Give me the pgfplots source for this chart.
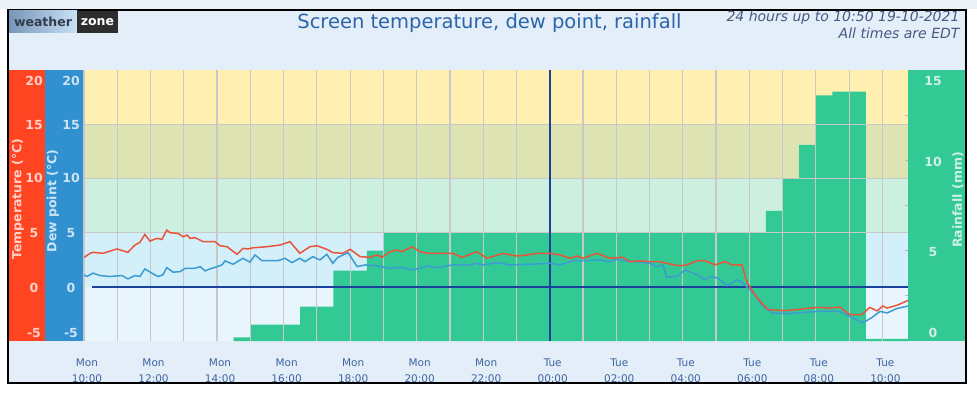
\documentclass[border=0pt]{standalone}
\usepackage{pgfplots}
\pgfplotsset{compat=1.18}
\usepackage{fontspec}
\setmainfont{DejaVu Sans}
\definecolor{panel}{RGB}{228,238,248}
\definecolor{bYel}{RGB}{255,239,176}
\definecolor{bOli}{RGB}{222,227,180}
\definecolor{bMin}{RGB}{205,239,224}
\definecolor{bCya}{RGB}{210,239,250}
\definecolor{bPal}{RGB}{232,245,252}
\definecolor{rainc}{RGB}{51,201,149}
\definecolor{redband}{RGB}{255,68,34}
\definecolor{blueband}{RGB}{48,144,208}
\definecolor{zeroc}{RGB}{25,65,155}
\definecolor{tempc}{RGB}{232,85,58}
\definecolor{dewc}{RGB}{60,155,210}
\definecolor{gridc}{RGB}{200,200,200}
\definecolor{titlec}{RGB}{42,100,170}
\definecolor{infoc}{RGB}{70,90,130}
\definecolor{xlabc}{RGB}{60,100,160}
\definecolor{logoL}{RGB}{120,150,185}
\definecolor{logoR}{RGB}{200,225,245}
\definecolor{logoD}{RGB}{45,45,45}
\definecolor{logoT}{RGB}{50,62,78}
\definecolor{topstrip}{RGB}{236,241,247}
\pgfplotsset{base/.style={at={(84pt,51pt)}, anchor=south west, scale only axis,
  width=824pt, height=271pt, xmin=0, xmax=24.77}}
\begin{document}
\begin{tikzpicture}[x=1pt,y=1pt]
\fill[white] (0,0) rectangle (977,392);
\fill[topstrip] (0,383) rectangle (977,392);
\fill[panel] (8,9) rectangle (966,382);
\draw[black, line width=1.5pt] (8,9) rectangle (966,382);
% logo
\shade[left color=logoL, right color=logoR] (9,359) rectangle (77,381);
\fill[logoD] (77,359) rectangle (118,381);
\node[font=\bfseries\fontsize{12.5}{13}\selectfont, text=logoT] at (43,370) {weather};
\node[font=\bfseries\fontsize{12.5}{13}\selectfont, text=white] at (97.5,370) {zone};
% titles
\node[font=\fontsize{19.5}{20}\selectfont, text=titlec] at (489.5,369) {Screen temperature, dew point, rainfall};
\node[font=\itshape\fontsize{14}{15}\selectfont, text=infoc, anchor=east] at (963,374) {24 hours up to 10:50 19-10-2021};
\node[font=\itshape\fontsize{14}{15}\selectfont, text=infoc, anchor=east] at (963,359) {All times are EDT};
% side bands
\fill[redband] (9,51) rectangle (45,322);
\fill[blueband] (45,51) rectangle (84,322);
\fill[rainc] (908,51) rectangle (965,322);
\begin{scope}[every node/.style={font=\bfseries\fontsize{12.5}{13}\selectfont}]
\foreach \v/\y in {20/311,15/267,10/214,5/159,0/104,-5/59}{
  \node[text=redband!25!white] at (34,\y) {\v};
  \node[text=blueband!25!white] at (71,\y) {\v};
}
\foreach \v/\y in {15/311,10/230,5/140,0/59}{
  \node[text=rainc!25!white] at (933,\y) {\v};
}
\node[text=redband!25!white, rotate=90] at (18,193) {Temperature (°C)};
\node[text=blueband!25!white, rotate=90] at (53,191) {Dew point (°C)};
\node[text=rainc!25!white, rotate=90] at (958,192) {Rainfall (mm)};
\end{scope}
% rainfall axis
\begin{axis}[base, ymin=0, ymax=15, axis on top, axis line style={draw=none},
  xtick=\empty, ytick={2.5,5,7.5,10,12.5}, yticklabels={}, ytick pos=right,
  tick align=inside, major tick length=3pt, tick style={color=gray!55, line width=0.8pt}]
\fill[bPal] (rel axis cs:0,0) rectangle (rel axis cs:1,0.2);
\fill[bCya] (rel axis cs:0,0.2) rectangle (rel axis cs:1,0.4);
\fill[bMin] (rel axis cs:0,0.4) rectangle (rel axis cs:1,0.6);
\fill[bOli] (rel axis cs:0,0.6) rectangle (rel axis cs:1,0.8);
\fill[bYel] (rel axis cs:0,0.8) rectangle (rel axis cs:1,1);
\addplot[const plot, fill=rainc, draw=none] coordinates {
(4.5,0.2)(5,0.9)(6.5,1.9)(7.5,3.9)(8.5,5.0)(9,6.0)(20.5,7.2)(21,9.0)(21.5,10.85)
(22,13.6)(22.5,13.8)(23.5,0.12)(24.77,0.12)} \closedcycle;
\end{axis}
% temperature axis
\begin{axis}[base, ymin=-5, ymax=20, axis line style={draw=none},
  xtick={0,2,...,24}, minor xtick={1,3,...,23}, ytick={5,10,15}, yticklabels={},
  xticklabels={{Mon\\10:00},{Mon\\12:00},{Mon\\14:00},{Mon\\16:00},{Mon\\18:00},{Mon\\20:00},{Mon\\22:00},{Tue\\00:00},{Tue\\02:00},{Tue\\04:00},{Tue\\06:00},{Tue\\08:00},{Tue\\10:00}},
  xticklabel style={align=center, font=\fontsize{10.5}{16}\selectfont, text=xlabc, xshift=3pt, yshift=-14pt},
  major tick length=0pt, minor tick length=0pt,
  grid=both, grid style={gridc, line width=1.2pt}, minor grid style={gridc, line width=1.2pt}]
\addplot[zeroc, line width=1.6pt] coordinates {(0.25,0)(24.77,0)};
\addplot[zeroc, line width=1.6pt] coordinates {(14,-5)(14,20)};
\addplot[dewc, line width=1.5pt] coordinates {
(0,1.10)(0.09,0.95)(0.27,1.26)(0.48,1.04)(0.78,0.95)(1.14,1.04)(1.32,0.73)(1.53,1.04)(1.68,0.95)(1.83,1.65)
(2.04,1.26)(2.22,0.95)(2.37,1.10)(2.49,1.77)(2.68,1.35)(2.89,1.40)(3.04,1.71)(3.34,1.71)(3.49,1.86)(3.64,1.47)
(3.79,1.65)(4.00,1.86)(4.15,2.02)(4.24,2.39)(4.48,2.08)(4.78,2.63)(4.99,2.27)(5.14,2.94)(5.35,2.41)(5.83,2.41)
(6.04,2.63)(6.25,2.23)(6.49,2.63)(6.64,2.32)(6.88,2.78)(7.09,2.48)(7.30,3.00)(7.48,2.17)(7.63,2.72)(7.94,3.15)
(8.21,1.86)(8.45,2.02)(8.81,1.93)(9.20,1.71)(9.50,1.80)(9.86,1.56)(10.10,1.71)(10.34,1.93)(10.61,1.75)(10.85,1.90)
(11.09,2.02)(11.60,2.02)(11.81,2.17)(11.99,2.02)(12.41,2.23)(12.80,2.02)(13.62,2.11)(14.01,2.17)(14.31,2.02)(14.70,2.41)
(15.12,2.41)(15.51,2.48)(15.81,2.32)(16.02,2.54)(16.32,2.35)(16.62,2.32)(17.01,2.17)(17.22,1.86)(17.40,2.00)(17.52,0.89)
(17.82,0.95)(18.06,1.56)(18.45,1.10)(18.67,0.64)(18.82,0.95)(19.06,0.80)(19.33,0.09)(19.63,0.64)(19.81,0.34)(20.11,-0.58)
(20.41,-1.80)(20.68,-2.41)(21.13,-2.48)(21.73,-2.34)(22.12,-2.27)(22.72,-2.27)(22.93,-2.60)(23.11,-2.87)(23.41,-3.33)(23.68,-2.85)
(23.93,-2.27)(24.14,-2.41)(24.44,-2.00)(24.77,-1.77)};
\addplot[tempc, line width=1.5pt] coordinates {
(0,2.70)(0.18,3.09)(0.27,3.18)(0.57,3.09)(0.99,3.49)(1.32,3.18)(1.53,3.85)(1.68,4.10)(1.83,4.83)(1.98,4.22)
(2.19,4.47)(2.34,4.37)(2.49,5.23)(2.58,5.00)(2.83,4.92)(2.98,4.62)(3.10,4.77)(3.19,4.47)(3.34,4.53)(3.58,4.16)
(3.94,4.16)(4.09,3.79)(4.30,3.70)(4.60,3.00)(4.78,3.55)(4.93,3.49)(5.08,3.60)(5.50,3.70)(5.89,3.85)(6.19,4.16)
(6.49,3.09)(6.79,3.70)(7.00,3.79)(7.30,3.46)(7.48,3.15)(7.78,3.09)(8.00,3.46)(8.30,2.78)(8.60,2.72)(8.81,2.94)
(8.96,2.72)(9.20,3.24)(9.41,3.39)(9.56,3.24)(9.86,3.70)(10.10,3.24)(10.34,3.09)(11.09,3.09)(11.36,2.72)(11.81,3.24)
(12.11,2.63)(12.59,3.09)(13.01,2.84)(13.32,2.94)(13.62,3.09)(14.01,3.09)(14.31,2.94)(14.61,2.63)(14.82,2.84)(15.00,2.63)
(15.42,3.09)(15.81,2.63)(16.20,2.72)(16.41,2.32)(16.71,2.39)(17.01,2.32)(17.31,2.32)(17.61,2.11)(17.91,1.93)(18.12,2.02)
(18.45,2.41)(18.67,2.41)(18.97,2.02)(19.27,2.32)(19.48,2.02)(19.78,2.02)(19.93,0.40)(20.23,-1.00)(20.56,-2.11)(20.83,-2.15)
(21.01,-2.20)(21.43,-2.11)(21.82,-1.96)(22.03,-1.90)(22.42,-1.96)(22.72,-1.87)(23.02,-2.57)(23.38,-2.57)(23.62,-1.90)(23.84,-2.22)
(24.02,-1.77)(24.14,-1.96)(24.44,-1.70)(24.77,-1.26)};
\end{axis}
\end{tikzpicture}
\end{document}
